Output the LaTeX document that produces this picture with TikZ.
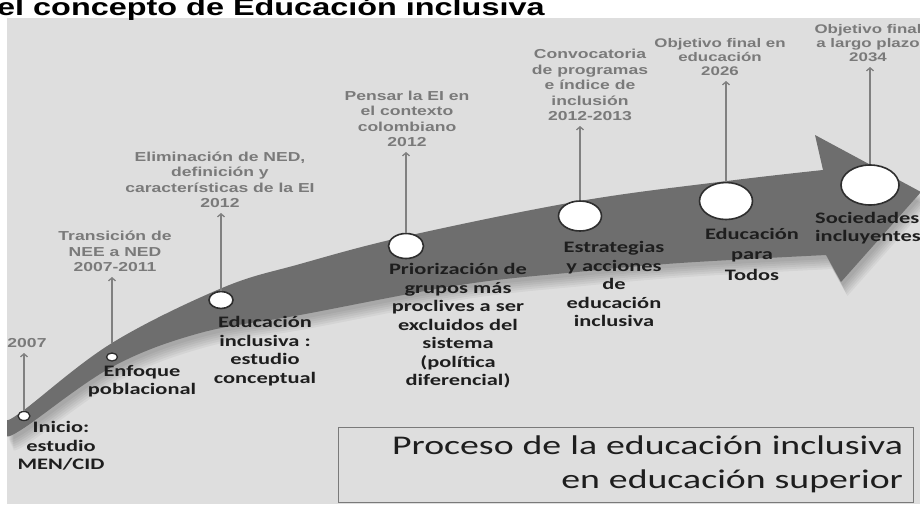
\documentclass[tikz,border=0pt]{standalone}
\usepackage{fontspec}
\usetikzlibrary{arrows.meta,shapes.geometric}
\newfontfamily\graylabfont[FakeStretch=1.35]{Liberation Sans}
\newfontfamily\blacklabfont[FakeStretch=1.4]{Carlito}
\definecolor{panel}{HTML}{DEDEDE}
\definecolor{bandcol}{HTML}{6E6E6E}
\definecolor{graytxt}{HTML}{7A7A7A}
\definecolor{conncol}{HTML}{808080}
\definecolor{blacktxt}{HTML}{1E1E1E}
\definecolor{ringcol}{HTML}{2E2E2E}
\definecolor{boxcol}{HTML}{7A7A7A}
\newcommand\bandpath{plot[smooth, tension=0.6] coordinates {(7,420) (24,410) (112,343) (222,288) (300,264) (407,236) (580,201) (727,181) (823,170)}
 -- (815,135) -- (921,192) -- (841,282) -- (826,255)
 -- plot[smooth, tension=0.6] coordinates {(826,255) (680,263) (577,272) (460,285) (300,315) (200,333) (112,367) (24,428) (7,436)} -- cycle}
\begin{document}
\begin{tikzpicture}[x=1pt,y=-1pt,
  graylabel/.style={align=center, inner sep=0pt, text=graytxt, font=\graylabfont\bfseries\fontsize{13}{15.5}\selectfont},
  graylabelb/.style={align=center, inner sep=0pt, text=graytxt, font=\graylabfont\bfseries\fontsize{12.5}{14}\selectfont},
  blacklabel/.style={align=center, inner sep=0pt, text=blacktxt, font=\blacklabfont\bfseries\fontsize{16}{18.5}\selectfont},
  ring/.style={ellipse, draw=ringcol, fill=white, line width=1.6pt, inner sep=0pt},
  conn/.style={draw=conncol, line width=1.3pt, shorten >=5pt, -{Straight Barb[length=3pt,width=7pt]}},
  boxnode/.style={draw=boxcol, line width=1pt, text width=555pt, align=right, inner xsep=10pt, minimum height=75pt, text=blacktxt, font=\blacklabfont\fontsize{27}{34}\selectfont}
]
\useasboundingbox (0,0) rectangle (920,504);
\clip (0,0) rectangle (920,504);
\fill[panel] (7,18) rectangle (920,504);
\node[anchor=base west, inner sep=0pt, font=\graylabfont\bfseries\fontsize{24}{24}\selectfont] (titulo) at (-3,15) {el concepto de Educación inclusiva};
% band shadow
\foreach \i in {1,...,6} {
  \fill[black, opacity=0.045, shift={(1+\i*0.9, 2+\i*2)}] \bandpath;
}
\fill[bandcol] \bandpath;
% circles
\node[ring, line width=1.3pt, minimum width=12pt, minimum height=9pt] (cinicio) at (24,416) {};
\node[ring, line width=1.3pt, minimum width=11pt, minimum height=8pt] (cenfoque) at (112,357) {};
\node[ring, minimum width=24pt, minimum height=17pt] (ceduc) at (221,300) {};
\node[ring, minimum width=35pt, minimum height=25pt] (cprior) at (406,246) {};
\node[ring, minimum width=43pt, minimum height=30pt] (cestrat) at (580,216) {};
\node[ring, minimum width=53pt, minimum height=37pt] (ctodos) at (726,201) {};
\node[ring, minimum width=58pt, minimum height=40pt] (csocied) at (870,185) {};
% gray labels
\node[graylabel, anchor=south] (l2007) at (27,348) {2007};
\node[graylabel, anchor=south] (ltrans) at (115,272) {Transición de\\NEE a NED\\2007-2011};
\node[graylabel, anchor=south] (lelim) at (220,208) {Eliminación de NED,\\definición y\\características de la EI\\2012};
\node[graylabel, anchor=south] (lpensar) at (407,147) {Pensar la EI en\\el contexto\\colombiano\\2012};
\node[graylabel, anchor=south] (lconv) at (590,121) {Convocatoria\\de programas\\e índice de\\inclusión\\2012-2013};
\node[graylabelb, anchor=south] (lobja) at (720,76) {Objetivo final en\\educación\\2026};
\node[graylabelb, anchor=south] (lobjb) at (868,62) {Objetivo final\\a largo plazo\\2034};
% connectors
\draw[conn] (cinicio.north) -- (cinicio.north |- l2007.south);
\draw[conn, shorten <=9pt] (cenfoque.north) -- (cenfoque.north |- ltrans.south);
\draw[conn] (ceduc.north) -- (ceduc.north |- lelim.south);
\draw[conn] (cprior.north) -- (cprior.north |- lpensar.south);
\draw[conn] (cestrat.north) -- (cestrat.north |- lconv.south);
\draw[conn] (ctodos.north) -- (ctodos.north |- lobja.south);
\draw[conn] (csocied.north) -- (csocied.north |- lobjb.south);
% black labels
\node[blacklabel] (tinicio) at (61,446) {Inicio:\\estudio\\MEN/CID};
\node[blacklabel] (tenfoque) at (142,381) {Enfoque\\poblacional};
\node[blacklabel] (teduc) at (265,351) {Educación\\inclusiva :\\estudio\\conceptual};
\node[blacklabel] (tprior) at (458,326) {Priorización de\\grupos más\\proclives a ser\\excluidos del\\sistema\\(política\\diferencial)};
\node[blacklabel] (testrat) at (614,284) {Estrategias\\y acciones\\de\\educación\\inclusiva};
\node[blacklabel, font=\blacklabfont\bfseries\fontsize{16}{20.5}\selectfont] (ttodos) at (752,254) {Educación\\para\\Todos};
\node[blacklabel, align=left, anchor=west] (tsocied) at (815,228) {Sociedades\\incluyentes};
% box
\node[boxnode] (proceso) at (625.5,464.5) {Proceso de la educación inclusiva\\en educación superior};
\end{tikzpicture}
\end{document}
